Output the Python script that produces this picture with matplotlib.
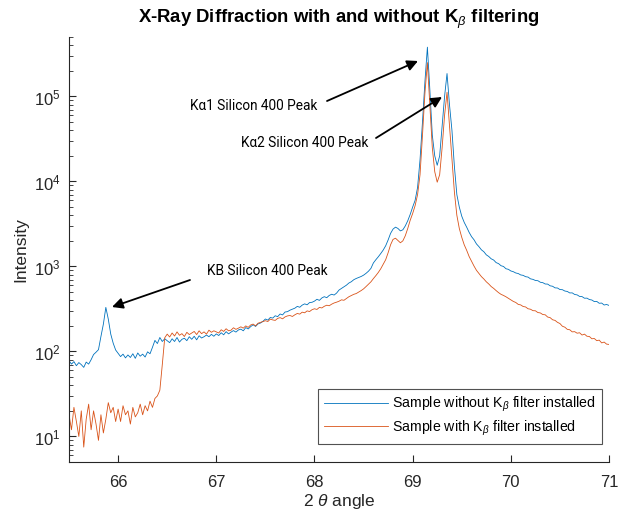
import numpy as np
import matplotlib
matplotlib.use('Agg')
import matplotlib.pyplot as plt

plt.rcParams['font.family'] = ['Liberation Sans', 'DejaVu Sans']
plt.rcParams['mathtext.fontset'] = 'custom'
plt.rcParams['mathtext.rm'] = 'Liberation Sans'
plt.rcParams['mathtext.it'] = 'Liberation Sans:italic'

# 2-theta sampling grid (deg), step 0.025
two_theta = np.round(np.arange(65.5, 71.0 + 1e-9, 0.025), 3)

# intensity without K-beta filter (one row = 0.25 deg)
no_filter = [
    78, 71, 76, 68, 74, 70, 65, 75, 71, 80,
    92, 98, 105, 150, 210, 330, 240, 160, 125, 104,
    95, 87, 93, 84, 91, 85, 94, 83, 96, 88,
    93, 86, 99, 94, 112, 135, 124, 146, 131, 141,
    134, 127, 141, 131, 146, 129, 139, 143, 134, 149,
    139, 151, 137, 153, 144, 149, 156, 149, 159, 151,
    161, 154, 166, 157, 171, 161, 169, 176, 169, 179,
    183, 175, 191, 184, 196, 206, 197, 211, 216, 226,
    241, 234, 251, 247, 263, 257, 276, 269, 291, 294,
    306, 314, 323, 339, 331, 351, 363, 354, 376, 379,
    391, 411, 399, 426, 441, 429, 456, 471, 461, 486,
    528, 551, 573, 602, 638, 661, 698, 722, 741, 762,
    790, 830, 880, 950, 1100, 1200, 1300, 1420, 1560, 1750,
    2050, 2450, 2750, 2900, 2800, 2620, 2700, 3000, 3450, 4100,
    5000, 6000, 8500, 18000, 50000, 150000, 380000, 120000, 35000, 20000,
    15500, 20000, 45000, 100000, 186000, 80000, 40000, 15000, 7000, 5000,
    3900, 3300, 2900, 2520, 2240, 2060, 1840, 1710, 1570, 1490,
    1370, 1310, 1230, 1190, 1110, 1080, 1020, 1000, 940, 925,
    885, 868, 838, 826, 795, 786, 758, 750, 715, 705,
    684, 680, 652, 645, 622, 620, 592, 585, 560, 558,
    535, 533, 514, 508, 488, 489, 468, 463, 444, 442,
    423, 424, 408, 403, 386, 388, 369, 371, 352, 357,
    348,
]

# intensity with K-beta filter
with_filter = [
    18, 12, 22, 15, 10, 20, 7.5, 16, 24, 12,
    20, 14, 9, 18, 11, 16, 25, 19, 22, 15,
    21, 15, 23, 18, 20, 14, 22, 17, 19, 24,
    18, 23, 20, 26, 22, 28, 30, 35, 70, 145,
    160, 148, 165, 152, 170, 155, 162, 150, 168, 158,
    165, 172, 158, 175, 162, 170, 160, 178, 168, 175,
    170, 165, 180, 172, 185, 175, 178, 190, 182, 188,
    195, 188, 200, 192, 205, 210, 200, 215, 220, 225,
    230, 225, 240, 235, 232, 245, 250, 242, 255, 262,
    265, 258, 270, 280, 275, 290, 285, 300, 295, 310,
    318, 312, 330, 325, 340, 350, 345, 360, 372, 380,
    390, 405, 400, 420, 440, 455, 470, 480, 500, 520,
    545, 580, 620, 660, 720, 780, 850, 940, 1060, 1200,
    1450, 1800, 2080, 2150, 2020, 1900, 2000, 2300, 2800, 3500,
    4200, 5200, 7000, 12000, 35000, 110000, 250000, 80000, 25000, 13000,
    9800, 12000, 25000, 60000, 112000, 45000, 18000, 7500, 4000, 2800,
    2200, 1800, 1550, 1310, 1150, 1010, 900, 825, 760, 712,
    660, 622, 580, 552, 520, 492, 470, 456, 440, 422,
    405, 388, 377, 358, 353, 338, 334, 318, 314, 302,
    301, 287, 284, 272, 270, 254, 250, 236, 232, 220,
    213, 198, 193, 182, 180, 170, 171, 164, 166, 156,
    160, 151, 150, 141, 142, 134, 136, 126, 129, 122,
    121,
]

fig = plt.figure(figsize=(6.19, 5.18), dpi=100)
ax = fig.add_axes([0.1115, 0.108, 0.8724, 0.8205])

ax.plot(two_theta, no_filter, color='#0072BD', lw=0.6,
        label='Sample without K$_{\\beta}$ filter installed')
ax.plot(two_theta, with_filter, color='#D95319', lw=0.6,
        label='Sample with K$_{\\beta}$ filter installed')

ax.set_yscale('log')
ax.set_xlim(65.5, 71)
ax.set_ylim(5, 5e5)
ax.set_xticks([66, 67, 68, 69, 70, 71])

ax.spines['top'].set_visible(False)
ax.spines['right'].set_visible(False)
for s in ['left', 'bottom']:
    ax.spines[s].set_color('#262626')
    ax.spines[s].set_linewidth(0.8)
ax.tick_params(which='both', direction='in', colors='#262626', labelsize=12)
ax.tick_params(which='major', length=5)
ax.tick_params(which='minor', length=3)
ax.tick_params(axis='x', pad=9)
ax.tick_params(axis='y', pad=6)

ax.set_xlabel('2 $\\theta$ angle', fontsize=12.5, color='#262626', labelpad=2)
ax.set_ylabel('Intensity', fontsize=12.5, color='#262626', labelpad=4)
ax.set_title('X-Ray Diffraction with and without K$_{\\beta}$ filtering',
             fontsize=13.3, fontweight='bold', pad=10)

leg = ax.legend(loc='lower right', bbox_to_anchor=(0.987, 0.042), fontsize=10.2,
                frameon=True, fancybox=False, handlelength=4.5, borderpad=0.45,
                labelspacing=0.3, handletextpad=0.3, borderaxespad=0)
leg.get_frame().set_edgecolor('#262626')
leg.get_frame().set_linewidth(0.8)


def fpos(px, py):
    return (px / 619, 1 - py / 518)


arrow = dict(arrowstyle='-|>', color='black', lw=1.3, mutation_scale=16,
             shrinkA=0, shrinkB=0)
notes = [
    ('K\u03b11 Silicon 400 Peak', (254, 106), (327, 101), (418, 61)),
    ('K\u03b12 Silicon 400 Peak', (305, 143), (376, 138), (442, 97)),
    ('KB Silicon 400 Peak', (267, 271), (190, 280), (112, 307)),
]
for txt, tpos, tail, head in notes:
    fig.text(*fpos(*tpos), txt, ha='center', va='center', fontsize=9.8,
             family=['Roboto', 'DejaVu Sans'])
    ax.annotate('', xy=fpos(*head), xytext=fpos(*tail),
                xycoords='figure fraction', textcoords='figure fraction',
                arrowprops=arrow)

fig.savefig('out.png', dpi=100)
